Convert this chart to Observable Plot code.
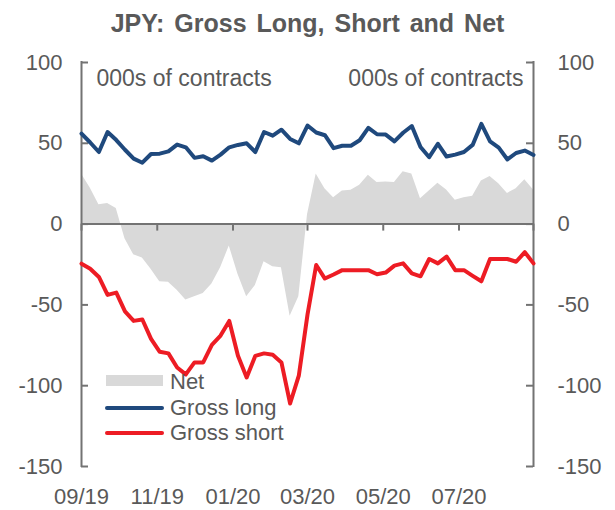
<!DOCTYPE html>
<html>
<head>
<meta charset="utf-8">
<script src="https://cdn.jsdelivr.net/npm/d3@7"></script>
<script src="https://cdn.jsdelivr.net/npm/@observablehq/plot@0.6"></script>
<style>
  body { margin: 0; background: #fff; font-family: "Liberation Sans", Arial, sans-serif; }
  #wrap { position: relative; width: 615px; height: 510px; overflow: hidden; }
  #title { height: 40px; }
  #title div { position: relative; top: 3px; text-align: center; font-weight: bold; font-size: 25px;
    line-height: 40px; color: #595959; word-spacing: 3px; white-space: nowrap; }
  #chart svg { display: block; }
  .lg { position: absolute; font-size: 22px; line-height: 26px; color: #595959; white-space: nowrap; }
  .sw { position: absolute; }
</style>
</head>
<body>
<div id="wrap">
  <div id="title"><div>JPY: Gross Long, Short and Net</div></div>
  <div id="chart"></div>
  <div id="legend"></div>
</div>
<script>
// ---- data (weekly, 000s of contracts) ----
const dates = [
  "2019-09-03","2019-09-10","2019-09-17","2019-09-24","2019-10-01","2019-10-08","2019-10-15","2019-10-22","2019-10-29",
  "2019-11-05","2019-11-12","2019-11-19","2019-11-26","2019-12-03","2019-12-10","2019-12-17","2019-12-24","2019-12-31",
  "2020-01-07","2020-01-14","2020-01-21","2020-01-28","2020-02-04","2020-02-11","2020-02-18","2020-02-25",
  "2020-03-03","2020-03-10","2020-03-17","2020-03-24","2020-03-31","2020-04-07","2020-04-14","2020-04-21","2020-04-28",
  "2020-05-05","2020-05-12","2020-05-19","2020-05-26","2020-06-02","2020-06-09","2020-06-16","2020-06-23","2020-06-30",
  "2020-07-07","2020-07-14","2020-07-21","2020-07-28","2020-08-04","2020-08-11","2020-08-18","2020-08-25","2020-09-01"
];
const grossLong = [
  56, 50.5, 44.6, 57, 52, 46, 40.5, 38, 43.4, 43.6, 45, 49.2, 47.5, 41, 42, 39.3, 43, 47.5,
  49, 50, 44.6, 57, 54.7, 58.4, 52.7, 50, 61, 56.7, 55, 47, 48.5, 48.5, 51.9, 59.6, 55.6,
  55.4, 51.2, 56.5, 60.7, 47.7, 41.4, 49.7, 41.8, 43, 44.6, 49, 62, 51.2, 47.3, 40, 44, 45.5, 42.8
];
const grossShort = [
  -24.5, -27.6, -32.7, -43.8, -42.4, -54, -59.9, -59, -71, -79, -80, -88.7, -93, -85.6, -85.6, -74.7, -69, -59.9,
  -81.5, -94.9, -81.5, -80, -80.9, -85.6, -111, -93.8, -56, -25.3, -33.7, -31.2, -28.5, -28.5, -28.5, -28.5, -31,
  -30, -25.7, -24.3, -30.5, -32.3, -21.6, -24.3, -20.1, -28.5, -28.5, -32, -35.4, -21.6, -21.6, -21.6, -23.3, -17.4, -24.3
];
const net = [
  31, 22.4, 12, 12.7, 9.7, -9, -19, -21, -28, -35.6, -36, -41, -47, -45, -43, -37, -27, -13.6,
  -31, -45, -38, -23.3, -26.4, -27, -57, -45, 5.8, 31, 21.9, 16.3, 20.5, 20.9, 24, 30.3, 25.7,
  26, 25.7, 32.4, 31, 15.7, 20.5, 25.3, 21.1, 14.8, 16.3, 17.3, 26.7, 29.4, 25, 19, 21.9, 27.4, 21.1
];
const yTicks = [100, 50, 0, -50, -100, -150];
const xTickDates = ["2019-09-03","2019-11-03","2020-01-03","2020-03-03","2020-05-03","2020-07-03","2020-09-01"];
const xTickLabels = ["09/19","11/19","01/20","03/20","05/20","07/20"];
const unitLabel = "000s of contracts";
const seriesNames = ["Net", "Gross long", "Gross short"];

// ---- styles ----
const colNet = "#d9d9d9", colLong = "#1f497d", colShort = "#ed1c24";
const axisColor = "#737373", textColor = "#595959";

const parse = d3.utcParse("%Y-%m-%d");
const rows = dates.map((d, i) => ({date: parse(d), long: grossLong[i], short: grossShort[i], net: net[i]}));
const tickDates = xTickDates.map(parse);
const labelDates = tickDates.slice(0, xTickLabels.length);
const labelOf = new Map(labelDates.map((d, i) => [+d, xTickLabels[i]]));
const xStart = parse(dates[0]), xEnd = parse(dates[dates.length - 1]);
const yFmt = d => String(d); // plain hyphen-minus, as in the original

const chart = Plot.plot({
  width: 615,
  height: 470,
  marginTop: 22,
  marginBottom: 44,
  marginLeft: 81,
  marginRight: 82,
  x: {type: "utc", domain: [xStart, xEnd]},
  y: {domain: [-150, 100]},
  style: {fontFamily: "'Liberation Sans', Arial, sans-serif", color: textColor, background: "white"},
  marks: [
    Plot.areaY(rows, {x: "date", y: "net", fill: colNet}),
    Plot.ruleY([0], {stroke: axisColor, strokeWidth: 2}),
    Plot.ruleX(tickDates, {x: d => d, y: 0, stroke: axisColor, strokeWidth: 2, insetBottom: -7}),
    Plot.ruleX([xStart, xEnd], {x: d => d, y1: -150, y2: 100, stroke: axisColor, strokeWidth: 2, strokeLinecap: "square"}),
    Plot.ruleY(yTicks, {y: d => d, x1: xStart, x2: xStart, insetRight: -7, stroke: axisColor, strokeWidth: 2}),
    Plot.ruleY(yTicks, {y: d => d, x1: xEnd, x2: xEnd, insetLeft: -7, stroke: axisColor, strokeWidth: 2}),
    Plot.lineY(rows, {x: "date", y: "long", stroke: colLong, strokeWidth: 4}),
    Plot.lineY(rows, {x: "date", y: "short", stroke: colShort, strokeWidth: 4}),
    Plot.axisY(yTicks, {anchor: "left", tickSize: 0, tickPadding: 19, fontSize: 22, fill: textColor, tickFormat: yFmt}),
    Plot.axisY(yTicks, {anchor: "right", tickSize: 0, tickPadding: 24, fontSize: 22, fill: textColor, tickFormat: yFmt}),
    Plot.axisX(labelDates, {anchor: "bottom", tickSize: 0, tickPadding: 22, fontSize: 22, fill: textColor,
      tickFormat: d => labelOf.get(+d)}),
    Plot.text([unitLabel], {text: d => d, frameAnchor: "top-left", textAnchor: "start", lineAnchor: "middle",
      dx: 15, dy: 16, fontSize: 23, fill: textColor}),
    Plot.text([unitLabel], {text: d => d, frameAnchor: "top-right", textAnchor: "end", lineAnchor: "middle",
      dx: -10, dy: 16, fontSize: 23, fill: textColor})
  ]
});
document.getElementById("chart").append(chart);

// ---- legend (overlaid inside the plot area) ----
const legend = document.getElementById("legend");
const legendRows = [
  {name: seriesNames[0], color: colNet, kind: "box", top: 369},
  {name: seriesNames[1], color: colLong, kind: "line", top: 395},
  {name: seriesNames[2], color: colShort, kind: "line", top: 420}
];
legendRows.forEach(r => {
  const sw = document.createElement("div");
  sw.className = "sw";
  sw.style.background = r.color;
  if (r.kind === "box") {
    sw.style.left = "106px"; sw.style.width = "57px"; sw.style.top = (r.top + 6) + "px"; sw.style.height = "11px";
  } else {
    sw.style.left = "105px"; sw.style.width = "59px"; sw.style.top = (r.top + 11) + "px"; sw.style.height = "4px";
    sw.style.borderRadius = "2px";
  }
  legend.append(sw);
  const lb = document.createElement("div");
  lb.className = "lg";
  lb.style.left = "170px";
  lb.style.top = r.top + "px";
  lb.textContent = r.name;
  legend.append(lb);
});
</script>
</body>
</html>
